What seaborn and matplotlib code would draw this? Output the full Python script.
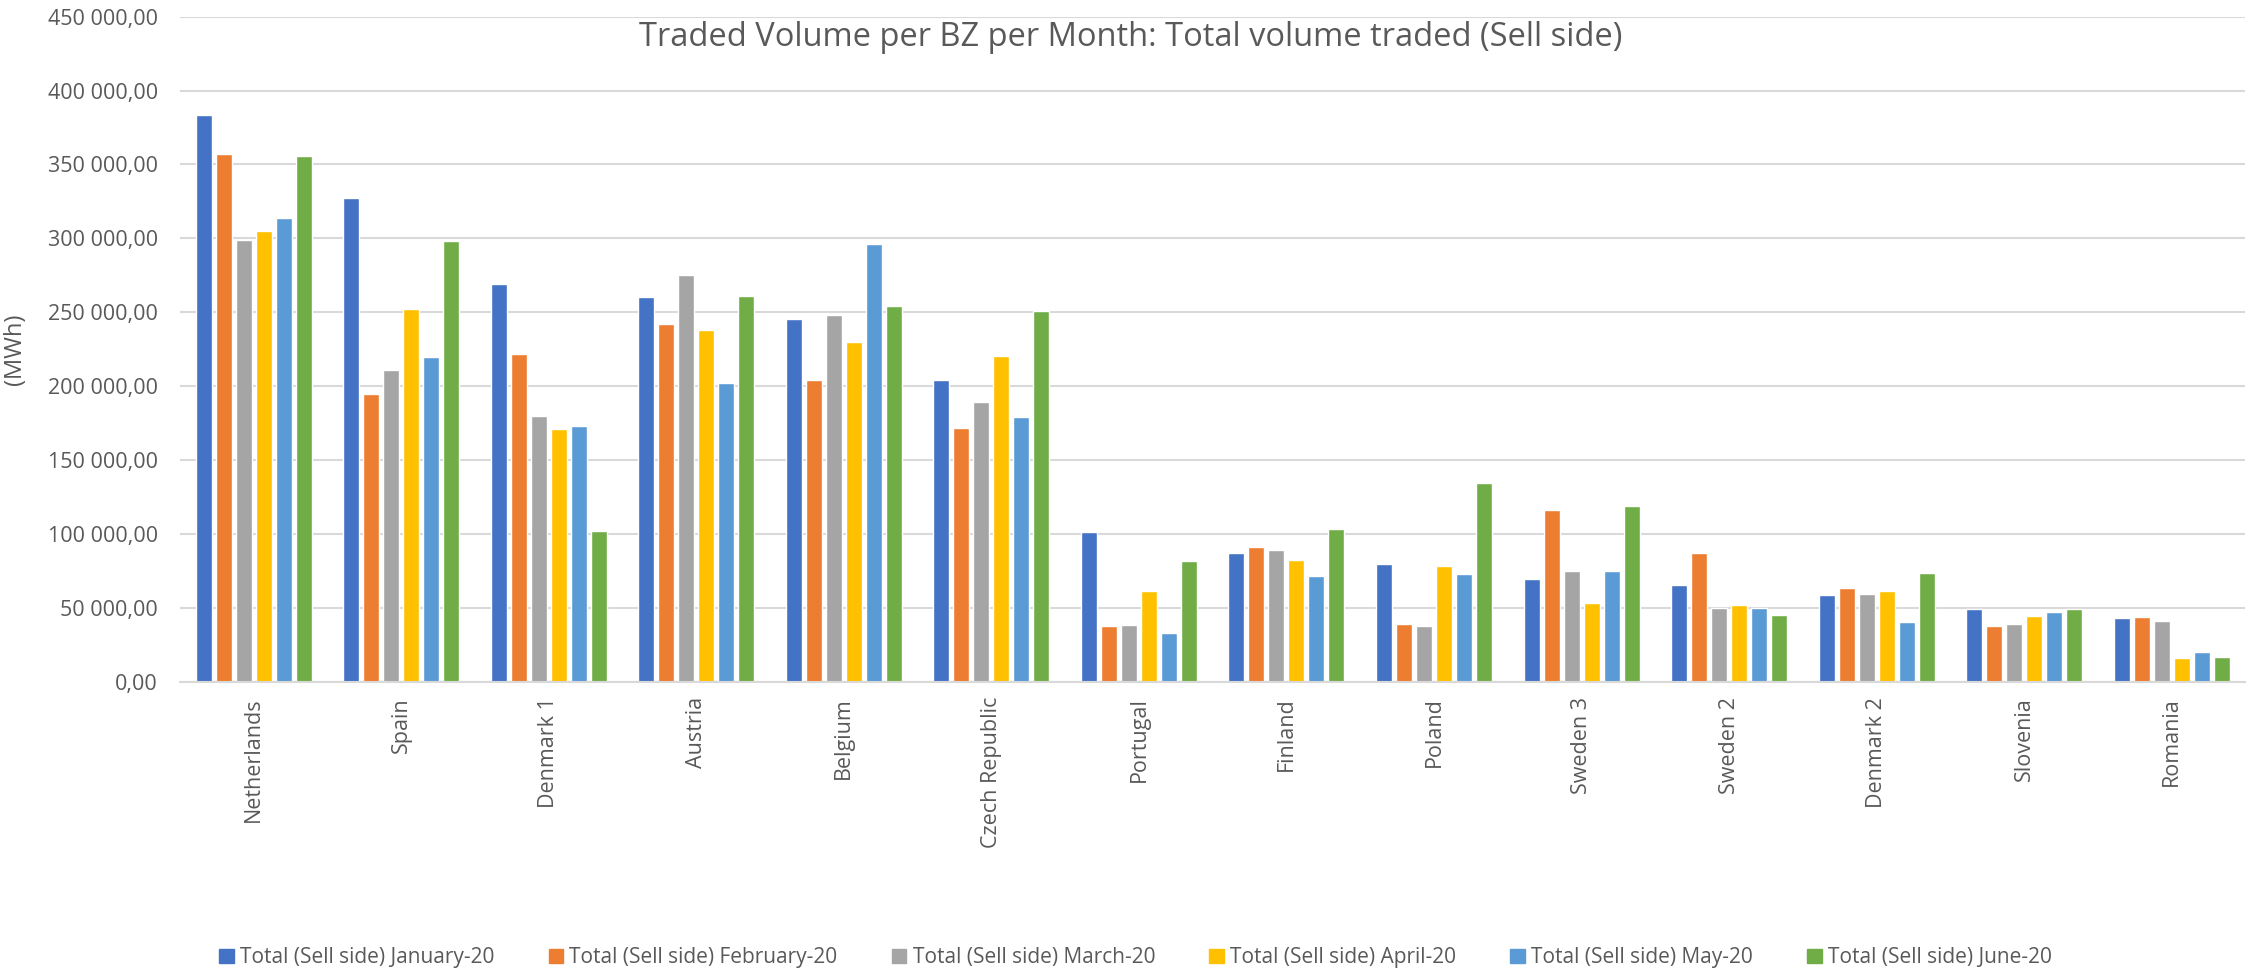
import pandas as pd
import matplotlib.pyplot as plt
import seaborn as sns
from matplotlib.ticker import FuncFormatter, MultipleLocator

# Bidding zones (x axis)
zones = ["Netherlands", "Spain", "Denmark 1", "Austria", "Belgium", "Czech Republic",
         "Portugal", "Finland", "Poland", "Sweden 3", "Sweden 2", "Denmark 2",
         "Slovenia", "Romania"]

months = ["Total (Sell side) January-20", "Total (Sell side) February-20",
          "Total (Sell side) March-20", "Total (Sell side) April-20",
          "Total (Sell side) May-20", "Total (Sell side) June-20"]

# Traded volume (MWh) per zone, one list per month
jan = [383400, 327400, 269300, 260000, 245400, 204300, 101100, 86900, 79900, 69600, 65700, 58700, 49000, 43000]
feb = [357100, 194600, 222100, 242400, 204300, 171600, 37800, 91100, 39300, 116500, 86900, 63300, 37500, 43900]
mar = [299000, 211200, 179500, 275400, 248200, 189400, 38700, 89300, 37800, 75000, 49900, 59300, 39300, 40900]
apr = [305000, 252400, 170700, 238200, 229700, 220600, 61700, 82300, 78400, 53600, 51700, 61100, 44500, 16000]
may = [314100, 219700, 172800, 201900, 296000, 178900, 33300, 71700, 72900, 74800, 49600, 40300, 46900, 20300]
jun = [355600, 298100, 102000, 261200, 254500, 250900, 81400, 103200, 134400, 119200, 45100, 73800, 49300, 16600]

colors = ["#4472C4", "#ED7D31", "#A5A5A5", "#FFC000", "#5B9BD5", "#70AD47"]

rows = []
for month, vals in zip(months, [jan, feb, mar, apr, may, jun]):
    for z, v in zip(zones, vals):
        rows.append({"zone": z, "month": month, "value": v})
df = pd.DataFrame(rows)

sns.set_theme(style="white")
plt.rcParams['font.family'] = ['Open Sans', 'DejaVu Sans']
text_color = "#595959"

fig = plt.figure(figsize=(22.52, 9.71), dpi=100)
ax = fig.add_axes([0.0799, 0.2979, 0.9172, 0.6849])

sns.barplot(data=df, x="zone", y="value", hue="month", palette=colors,
            saturation=1, width=0.813, gap=0.2, ax=ax, legend=False)

ax.set_ylim(0, 450000)
ax.set_xlim(-0.5, len(zones) - 0.5)
ax.yaxis.set_major_locator(MultipleLocator(50000))
ax.yaxis.set_major_formatter(FuncFormatter(
    lambda v, p: f"{v:,.2f}".replace(",", " ").replace(".", ",")))
ax.grid(axis="y", color="#D9D9D9", linewidth=1.5)
ax.set_axisbelow(True)
for s in ["top", "right", "left"]:
    ax.spines[s].set_visible(False)
ax.spines["bottom"].set_color("#D9D9D9")
ax.spines["bottom"].set_linewidth(1.5)

ax.tick_params(axis="y", labelsize=15.5, labelcolor=text_color, length=0, pad=16)
ax.tick_params(axis="x", labelsize=15.5, labelcolor=text_color, length=0, pad=11)
plt.setp(ax.get_xticklabels(), rotation=90)
ax.set_xlabel("")
ax.set_ylabel("(MWh)", fontsize=17, color=text_color)
ax.yaxis.set_label_coords(-0.0741, 0.5)

fig.text(0.502, 0.961, "Traded Volume per BZ per Month: Total volume traded (Sell side)",
         ha="center", va="center", fontsize=23.5, color=text_color)

handles = [plt.Rectangle((0, 0), 1, 1, color=c) for c in colors]
fig.legend(handles, months, loc="center", bbox_to_anchor=(0.5042, 0.0134), ncol=6,
           frameon=False, fontsize=15, labelcolor=text_color,
           handlelength=0.7, handleheight=0.7, handletextpad=0.3, columnspacing=2.6)

plt.savefig("out.png", dpi=100)
